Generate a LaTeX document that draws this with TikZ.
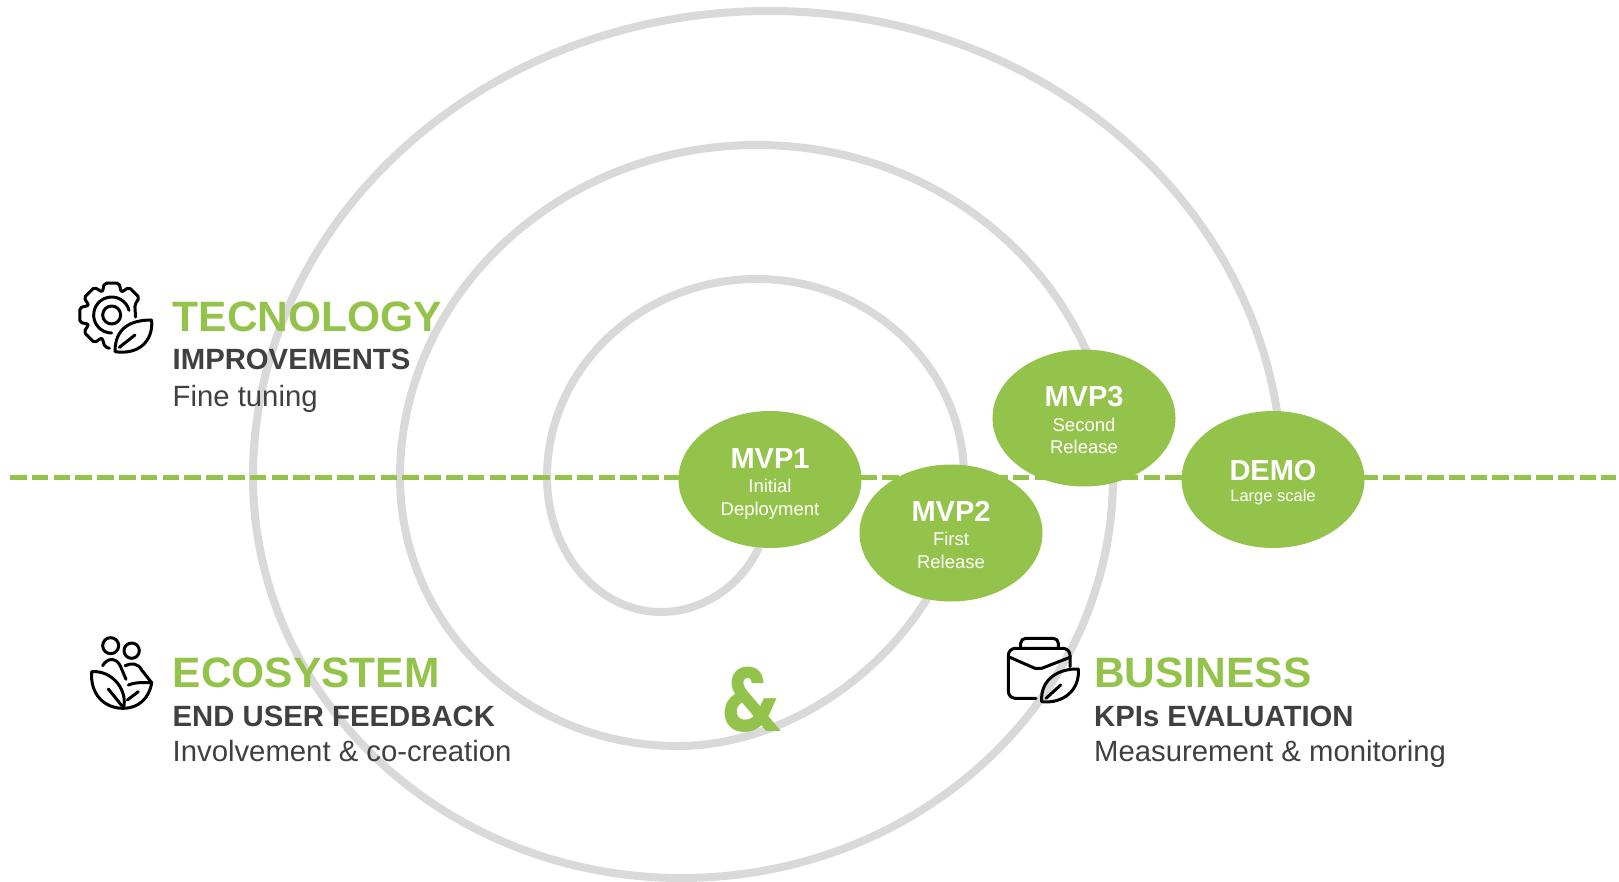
\documentclass[tikz,border=0pt]{standalone}
\usepackage{fontspec}
\setmainfont{Liberation Sans}
\newfontfamily\ampfont{Poppins}
\usetikzlibrary{shapes.geometric}
\definecolor{leafgreen}{HTML}{94C34B}
\definecolor{spiralgrey}{HTML}{D9D9D9}
\definecolor{textgrey}{HTML}{404040}
\newcommand{\mvptitle}{\fontsize{29}{30}\selectfont\bfseries\rule{0pt}{28pt}}
\newcommand{\mvpsub}{\fontsize{18.5}{22}\selectfont\mdseries}
\newcommand{\mvpend}{\rule[-3.9pt]{0pt}{1pt}}
\newcommand{\demotitle}{\fontsize{29}{30}\selectfont\bfseries\rule{0pt}{26pt}}
\newcommand{\demosub}{\fontsize{16.5}{22}\selectfont\mdseries}
\tikzset{
  mvpnode/.style={ellipse,fill=leafgreen,minimum width=183pt,minimum height=137pt,inner sep=0pt,text=white,align=center},
  headline/.style={anchor=base west,inner sep=0pt,text=leafgreen,font=\fontsize{42.5}{43}\selectfont\bfseries},
  subline/.style={anchor=base west,inner sep=0pt,text=textgrey,font=\fontsize{29.3}{30}\selectfont\bfseries},
  bodyline/.style={anchor=base west,inner sep=0pt,text=textgrey,font=\fontsize{29.3}{30}\selectfont},
  iconline/.style={draw=black,line width=3pt,line cap=round,line join=round},
  iconscope/.style={x=.33333pt,y=-.33333pt},
}
\begin{document}
\begin{tikzpicture}[x=1pt,y=-1pt]
\useasboundingbox (0,0) rectangle (1619,882);
% spiral
\draw[spiralgrey,line width=8pt]
  (759,547) .. controls (742,585) and (703,612) .. (661,612)
  .. controls (598,612) and (547,552) .. (547,477)
  .. controls (547,368) and (641,279) .. (757,279)
  .. controls (871,279) and (964,368) .. (964,477)
  .. controls (964,612) and (822,746) .. (678,746)
  .. controls (524,746) and (400,626) .. (400,477)
  .. controls (400,294) and (560,145) .. (757,145)
  .. controls (954,145) and (1113,294) .. (1113,477)
  .. controls (1113,698) and (919.5,878) .. (681.5,878)
  .. controls (444.5,878) and (253,698) .. (253,477)
  .. controls (253,220) and (484,11) .. (769,11)
  .. controls (1054,11) and (1282,220) .. (1282,477);
% dashed axis
\coordinate (axisL) at (10,477.7);
\coordinate (axisR) at (1616,477.7);
\draw[leafgreen,line width=5.3pt,dash pattern=on 16.5pt off 5.3pt] (axisL) -- (axisR);
% MVP nodes
\node[mvpnode] (mvp1) at (770,479.5) {\mvptitle MVP1\\[10pt]\mvpsub Initial\\[8pt]\mvpsub Deployment\mvpend};
\node[mvpnode] (mvp2) at (951,533) {\mvptitle MVP2\\[10pt]\mvpsub First\\[8pt]\mvpsub Release\mvpend};
\node[mvpnode] (mvp3) at (1084,418) {\mvptitle MVP3\\[10pt]\mvpsub Second\\[8pt]\mvpsub Release\mvpend};
\node[mvpnode] (demo) at (1273,479.5) {\demotitle DEMO\\[8pt]\demosub Large scale};
% text blocks
\node[headline] (t1) at (172.5,332) {TECNOLOGY};
\node[subline] (t2) at (172.5,370) {IMPROVEMENTS};
\node[bodyline] (t3) at (172.5,406) {Fine tuning};
\node[headline] (e1) at (172.5,687.5) {ECOSYSTEM};
\node[subline] (e2) at (172.5,726) {END USER FEEDBACK};
\node[bodyline] (e3) at (172.5,761) {Involvement \& co-creation};
\node[headline] (b1) at (1094,687.5) {BUSINESS};
\node[subline] (b2) at (1094,726) {KPIs EVALUATION};
\node[bodyline] (b3) at (1094,761) {Measurement \& monitoring};
\node[anchor=base,inner sep=0pt,text=leafgreen,xscale=.82,font=\ampfont\fontsize{90}{90}\selectfont\bfseries] (amp) at (752,731) {\&};
% gear icon
\begin{scope}[shift={(60,260)},iconscope]
  \begin{scope}[shift={(155,165)},y=.33333pt]
    \draw[iconline,rounded corners=2pt] (-5:72) -- (24:76)
      \foreach \a in {45,90,135,180,225} { -- ({\a-13}:98) -- ({\a+13}:98) -- ({\a+22}:74) }
      -- (258:98) -- (266:100);
    \draw[iconline] (15:54) arc[start angle=15,end angle=270,radius=54];
    \draw[iconline] (0,0) circle[radius=27];
  \end{scope}
  \draw[iconline] (165,275) .. controls (165,205) and (210,180) .. (275,180)
    .. controls (280,245) and (235,285) .. (165,275);
  \draw[iconline] (178,262) -- (225,225);
\end{scope}
% people icon
\begin{scope}[shift={(70,620)},iconscope]
  \draw[iconline] (122,77) circle[radius=24];
  \draw[iconline] (185,92) circle[radius=23];
  \draw[iconline] (98,137) .. controls (112,112) and (140,112) .. (152,140) -- (168,178);
  \draw[iconline] (165,137) .. controls (185,128) and (205,130) .. (215,150) -- (245,188);
  \draw[iconline] (65,155) .. controls (60,220) and (100,265) .. (160,265)
    .. controls (175,215) and (130,150) .. (65,155);
  \draw[iconline] (115,207) -- (158,260);
  \draw[iconline] (175,195) .. controls (200,185) and (225,188) .. (245,188)
    .. controls (238,235) and (205,265) .. (160,265);
  \draw[iconline] (172,240) -- (205,215);
\end{scope}
% briefcase icon
\begin{scope}[shift={(990,620)},iconscope]
  \draw[iconline,rounded corners=7pt] (240,140) -- (240,85) -- (55,85) -- (55,235) -- (138,235);
  \draw[iconline,rounded corners=5pt] (92,85) -- (92,55) -- (205,55) -- (205,85);
  \draw[iconline] (55,110) -- (135,145) -- (155,145) -- (240,112);
  \draw[iconline] (155,245) .. controls (150,175) and (210,145) .. (265,147)
    .. controls (270,210) and (220,252) .. (155,245);
  \draw[iconline] (168,235) -- (212,195);
\end{scope}
\end{tikzpicture}
\end{document}
